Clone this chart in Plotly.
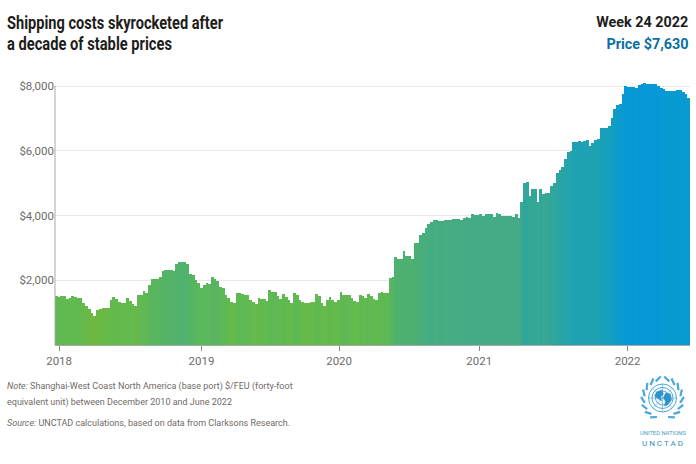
import json
import math
import plotly.graph_objects as go

prices = [
1510,1470,1500,1500,1420,1440,1520,1480,1460,1450,1300,1220,1100,1000,900,1090,1100,1130,1130,1130,
1400,1470,1420,1330,1290,1290,1440,1350,1260,1190,1530,1530,1660,1600,1850,2050,2040,2040,2100,2280,
2310,2320,2320,2300,2510,2560,2570,2570,2510,2200,2170,2000,1900,1750,1860,1910,1880,2090,2040,1970,
1800,1760,1550,1450,1330,1310,1600,1600,1590,1530,1550,1400,1330,1270,1450,1430,1410,1370,1690,1640,
1630,1520,1420,1580,1480,1400,1290,1600,1560,1400,1330,1310,1310,1340,1340,1580,1510,1300,1220,1400,
1490,1380,1340,1400,1630,1550,1550,1530,1440,1350,1340,1550,1500,1450,1570,1520,1430,1400,1620,1630,
1600,1600,2080,2100,2730,2650,2670,2900,2760,2750,2670,3150,3150,3400,3450,3600,3750,3810,3860,
3850,3840,3830,3850,3860,3860,3880,3890,3900,3870,3930,3940,3930,4060,4020,4010,4040,4000,4060,4060,
4050,3950,4090,4040,3980,4000,3990,3970,3960,4050,3910,4420,5000,5050,4600,4830,4830,4420,4810,4670,
4700,4700,4900,5000,5300,5400,5500,5750,5950,6000,6270,6280,6290,6280,6290,6330,6160,6250,
6320,6370,6700,6700,6700,6750,7000,7300,7400,7450,7750,8000,7980,7970,7960,7950,8020,8060,8080,8060,
8070,8060,8070,7990,7950,7900,7860,7850,7860,7860,7870,7870,7800,7740,7630,
]
weeks = list(range(len(prices)))
year_labels = ["2018", "2019", "2020", "2021", "2022"]
year_weeks = [1, 53, 103.3, 154.5, 208.7]
y_ticks = [2000, 4000, 6000, 8000]
y_tick_labels = ["$2,000", "$4,000", "$6,000", "$8,000"]

W, H = 696, 464
L, R, T, B = 55, 690, 80, 345
Y_TOP = 8000 * (B - T) / (B - 86)
def px(x): return (x - L) / (R - L)
def py(y): return (B - y) / (B - T)

scale = [[0, "#74B838"], [0.03, "#6CB942"], [0.083, "#62BA4E"], [0.167, "#58B65E"], [0.236, "#50B26C"],
         [0.444, "#44AB85"], [0.583, "#2FA69B"], [0.764, "#1EA2B3"], [1, "#0499D6"]]

fig = go.Figure(go.Bar(x=weeks, y=prices, width=1,
                       marker=dict(color=prices, colorscale=scale, cmin=800, cmax=8000, line_width=0),
                       showlegend=False))

# y axis line stops at the $8,000 gridline, as in the reference
shapes = [dict(type="line", xref="paper", yref="paper", layer="above",
               x0=0, x1=0, y0=0, y1=py(85.5), line=dict(color="#a9a9a9", width=1))]
BLUE = "#4AA8D8"
cx, cy = 662.5, 398
def circle(r, w=1.0, fill=None):
    s = dict(type="circle", xref="paper", yref="paper", layer="above",
             x0=px(cx - r), x1=px(cx + r), y0=py(cy + r), y1=py(cy - r),
             line=dict(color=BLUE, width=w))
    if fill: s["fillcolor"] = fill
    return s
for r in (14, 10.5, 7):
    shapes.append(circle(r, 1.0))
for i in range(8):
    a = i * math.pi / 4
    shapes.append(dict(type="line", xref="paper", yref="paper", layer="above",
                       x0=px(cx), y0=py(cy), x1=px(cx + 14 * math.cos(a)), y1=py(cy + 14 * math.sin(a)),
                       line=dict(color=BLUE, width=0.6)))
# land masses of the emblem
land = [(-6, -6), (-1, -8), (1, -4), (-2, -1), (-1, 3), (-4, 1), (-8, -2)]
land2 = [(3, -5), (8, -4), (9, 2), (5, 7), (2, 8), (3, 3), (1, 0)]
for poly in (land, land2):
    path = "M " + " L ".join(f"{px(cx + a)} {py(cy + b)}" for a, b in poly) + " Z"
    shapes.append(dict(type="path", xref="paper", yref="paper", layer="above", path=path,
                       fillcolor="#2f93c8", line=dict(color="#2f93c8", width=0.5)))
# laurel branches
for sign in (-1, 1):
    for i in range(8):
        a = math.radians(-72 + i * 20)
        r = 18
        x = cx + sign * r * math.cos(a)
        y = cy + 1 - r * math.sin(a) * 1.05
        x2 = cx + sign * (r + 3.5) * math.cos(a + 0.3)
        y2 = cy + 1 - (r + 3.5) * math.sin(a + 0.3) * 1.05
        shapes.append(dict(type="line", xref="paper", yref="paper", layer="above",
                           x0=px(x), y0=py(y), x1=px(x2), y1=py(y2),
                           line=dict(color=BLUE, width=2.2)))

def txt(x, y, s, size, color, anchor="left", weight=400):
    shift = -2 if anchor == "left" else (2 if anchor == "right" else 0)
    return dict(xref="paper", yref="paper", x=px(x + shift), y=py(y), text=s, showarrow=False,
                xanchor=anchor, yanchor="middle", align=anchor,
                font=dict(family="Roboto, sans-serif", size=size, color=color, weight=weight))

TITLE1 = "Shipping costs skyrocketed after"
TITLE2 = "a decade of stable prices"
WEEK = "Week 24 2022"
PRICE = "Price $7,630"
annotations = [
    txt(7, 23, TITLE1, 18.5, "#1d1d1b", weight=700),
    txt(7, 44, TITLE2, 18.5, "#1d1d1b", weight=700),
    txt(689, 22, WEEK, 15, "#1d1d1b", "right", 700),
    txt(689, 44, PRICE, 15, "#0b6fa4", "right", 700),
    txt(7, 386, "<i>Note:</i> Shanghai-West Coast North America (base port) $/FEU (forty-foot", 9, "#6f6a66"),
    txt(7, 402, "equivalent unit) between December 2010 and June 2022", 9, "#6f6a66"),
    txt(7, 423, "<i>Source:</i> UNCTAD calculations, based on data from Clarksons Research.", 9, "#6f6a66"),
    txt(662.5, 433, "UNITED NATIONS", 5.8, "#3f9dcc", "center"),
    txt(662.5, 443.5, "U N C T A D", 8, "#2f8fc0", "center"),
]

fig.update_layout(
    width=W, height=H, margin=dict(l=L, r=W - R, t=T, b=H - B, pad=0),
    paper_bgcolor="white", plot_bgcolor="white", bargap=0,
    font=dict(family="Roboto, sans-serif", color="#6f6a66", size=11),
    xaxis=dict(range=[-0.5, len(prices) - 0.5], tickvals=year_weeks, ticktext=year_labels,
               showgrid=False, zeroline=False, showline=True, linecolor="#a9a9a9", linewidth=1,
               ticks="outside", ticklen=5, tickcolor="#8a8a8a", tickwidth=1,
               tickfont=dict(size=11.5, color="#6f6a66")),
    yaxis=dict(range=[0, Y_TOP], tickvals=y_ticks, ticktext=y_tick_labels,
               showgrid=True, gridcolor="#e8e8e8", gridwidth=1, zeroline=False,
               showline=False, ticks="", ticklen=0,
               tickfont=dict(size=11.5, color="#6f6a66")),
    shapes=shapes, annotations=annotations,
)
# Reference headline is a condensed face: fit each line to its measured width.
fit = {TITLE1: 216, TITLE2: 165, WEEK: 92, PRICE: 82}
post = ("document.body.style.margin='0';var m=" + json.dumps(fit) + ";"
        "document.querySelectorAll('.annotation-text').forEach(function(t){var w=m[t.textContent];"
        "if(w){t.setAttribute('textLength',w);t.setAttribute('lengthAdjust','spacingAndGlyphs');}});")
fig.write_html("out.html", post_script=post, config={"displayModeBar": False})
